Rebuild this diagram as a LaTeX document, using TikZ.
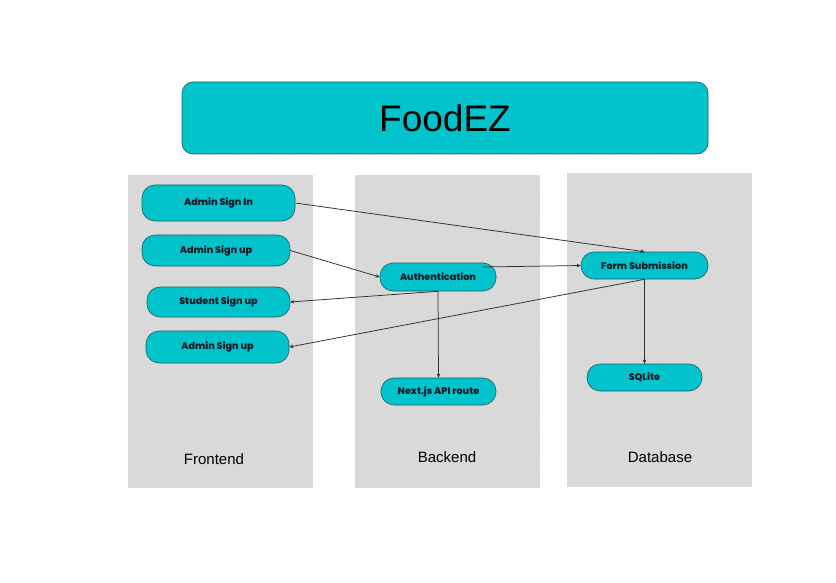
\documentclass[tikz,border=0pt]{standalone}
\usepackage{fontspec}
\setmainfont{Liberation Sans}
\newfontfamily\boxfont{Poppins}[UprightFont={* ExtraBold}]
\usetikzlibrary{arrows.meta}
\definecolor{teal}{HTML}{00C3CC}
\definecolor{tealedge}{HTML}{1A5F63}
\definecolor{panel}{HTML}{D9D9D9}
\definecolor{ink}{HTML}{0E1A26}
\definecolor{wire}{HTML}{2E2E2E}
\definecolor{dotc}{HTML}{E6E6E6}
\tikzset{
  panelbox/.style={fill=panel, draw=none},
  pill/.style={draw=tealedge, line width=0.6pt, fill=teal, rounded corners=13pt,
    minimum height=#1, inner sep=0pt, text=ink,
    font=\boxfont\fontsize{9.6}{10}\selectfont},
  pill/.default=31pt,
  paneltitle/.style={font=\fontsize{15}{17}\selectfont, text=black},
  link/.style={draw=wire, line width=0.75pt, -{Stealth[length=4pt,width=3.5pt]}},
}
\begin{document}
\begin{tikzpicture}[x=1pt,y=-1pt]
  \useasboundingbox (0,0) rectangle (836,583);
  \fill[white] (0,0) rectangle (836,583);
  % faint dotted grid on the canvas
  \foreach \i in {0,...,83} {
    \foreach \j in {0,...,58} {
      \fill[dotc] (\i*10+4,\j*10+4) circle (0.7);
    }
  }

  % title banner
  \node[draw=tealedge, line width=0.6pt, fill=teal, rounded corners=11pt,
        minimum width=526pt, minimum height=72pt, inner sep=0pt,
        font=\fontsize{37}{42}\selectfont]
        (title) at (445,118) {FoodEZ};

  % column panels
  \fill[panelbox] (128,175) rectangle (313,488);
  \fill[panelbox] (355,175) rectangle (540,488);
  \fill[panelbox] (567,173) rectangle (752,487);
  \node[paneltitle] (fe) at (214,459) {Frontend};
  \node[paneltitle] (be) at (447,457) {Backend};
  \node[paneltitle] (db) at (660,457) {Database};

  % frontend nodes
  \node[pill=36pt, minimum width=153pt] (signin) at (218.5,203) {Admin Sign In};
  \node[pill=31pt, minimum width=148pt] (signup) at (216,250.5) {Admin Sign up};
  \node[pill=30pt, minimum width=143pt] (student) at (218.5,302) {Student Sign up};
  \node[pill=32pt, minimum width=143pt] (signup2) at (217.5,347) {Admin Sign up};

  % backend nodes
  \node[pill=28pt, minimum width=116pt] (auth) at (438,277) {Authentication};
  \node[pill=27pt, minimum width=115pt] (api) at (438.5,391.5) {Next.js API route};

  % database nodes
  \node[pill=27pt, minimum width=127pt] (form) at (644.5,265.5) {Form Submission};
  \node[pill=27pt, minimum width=115pt] (sqlite) at (644.5,377.5) {SQLite};

  % connectors
  \draw[link] (signin.east) -- (form.north);
  \draw[link] (signup.east) -- (auth.west);
  \draw[link] (auth.south) -- (student.east);
  \draw[link] (auth.south) -- (api.north);
  \draw[link] ([xshift=-14pt,yshift=10pt]auth.east) -- (form.west);
  \draw[link] (form.south) -- (signup2.east);
  \draw[link] (form.south) -- (sqlite.north);
\end{tikzpicture}
\end{document}
